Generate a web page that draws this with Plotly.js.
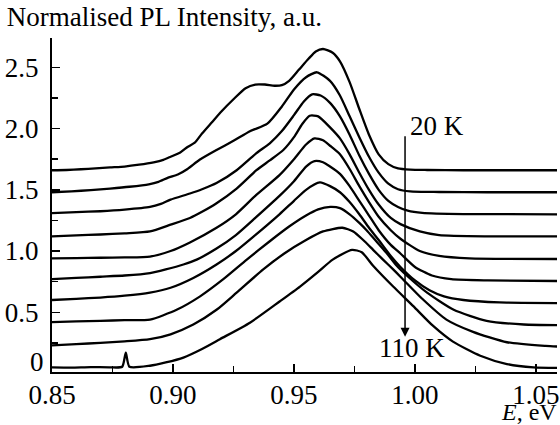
<!DOCTYPE html>
<html><head><meta charset="utf-8">
<script src="https://cdn.plot.ly/plotly-3.0.1.min.js"></script>
<style>html,body{margin:0;padding:0;background:#fff}#chart{width:560px;height:425px}</style>
</head><body><div id="chart"></div>
<script>
// Temperatures (K), top to bottom
const temps = [20, 30, 40, 50, 60, 70, 80, 90, 100, 110];

const E_20K = [0.850,0.856,0.862,0.868,0.874,0.880,0.886,0.892,0.896,0.899,0.903,0.906,0.909,0.912,0.916,0.920,0.925,0.930,0.934,0.938,0.942,0.945,0.948,0.952,0.956,0.959,0.962,0.966,0.969,0.973,0.977,0.981,0.985,0.989,0.993,0.998,1.005,1.020,1.040,1.059];
const I_20K = [1.660,1.662,1.668,1.675,1.683,1.690,1.705,1.725,1.745,1.770,1.805,1.850,1.885,1.960,2.050,2.140,2.240,2.330,2.360,2.360,2.350,2.355,2.390,2.480,2.570,2.630,2.650,2.620,2.550,2.380,2.160,1.950,1.790,1.710,1.675,1.665,1.662,1.660,1.660,1.660];

const E_30K = [0.850,0.858,0.866,0.874,0.882,0.890,0.894,0.898,0.902,0.906,0.911,0.918,0.925,0.932,0.939,0.945,0.950,0.955,0.9595,0.9649,0.969,0.973,0.977,0.981,0.985,0.989,0.993,0.998,1.010,1.030,1.059];
const I_30K = [1.480,1.488,1.497,1.510,1.525,1.545,1.565,1.600,1.625,1.670,1.745,1.825,1.900,1.980,2.040,2.180,2.320,2.420,2.460,2.390,2.270,2.100,1.930,1.770,1.640,1.550,1.505,1.487,1.482,1.480,1.480];

const E_40K = [0.850,0.860,0.870,0.880,0.8905,0.895,0.899,0.907,0.912,0.918,0.9263,0.9345,0.940,0.945,0.950,0.954,0.9575,0.961,0.9649,0.969,0.973,0.977,0.981,0.985,0.989,0.993,0.997,1.003,1.020,1.059];
const I_40K = [1.310,1.318,1.325,1.338,1.360,1.385,1.420,1.470,1.505,1.555,1.660,1.800,1.880,1.980,2.110,2.220,2.280,2.270,2.210,2.100,1.950,1.780,1.630,1.500,1.410,1.360,1.330,1.312,1.302,1.300];

const E_50K = [0.850,0.860,0.870,0.880,0.8905,0.899,0.907,0.912,0.918,0.9263,0.9345,0.940,0.9456,0.950,0.9535,0.9565,0.960,0.9649,0.969,0.973,0.977,0.981,0.985,0.990,0.994,1.002,1.010,1.030,1.059];
const I_50K = [1.120,1.128,1.135,1.145,1.160,1.215,1.270,1.320,1.390,1.510,1.660,1.740,1.825,1.930,2.040,2.105,2.100,2.010,1.920,1.790,1.640,1.500,1.380,1.270,1.220,1.160,1.130,1.120,1.120];

const E_60K = [0.850,0.860,0.870,0.880,0.8905,0.899,0.907,0.918,0.926,0.934,0.944,0.950,0.955,0.9585,0.962,0.9649,0.969,0.973,0.977,0.981,0.985,0.990,0.994,1.002,1.010,1.0225,1.059];
const I_60K = [0.940,0.942,0.945,0.948,0.955,1.000,1.070,1.190,1.300,1.450,1.620,1.750,1.870,1.920,1.905,1.860,1.790,1.670,1.530,1.400,1.280,1.170,1.100,1.000,0.960,0.940,0.935];

const E_70K = [0.850,0.860,0.870,0.880,0.8905,0.897,0.9043,0.9098,0.918,0.926,0.934,0.944,0.950,0.955,0.9585,0.962,0.9649,0.969,0.973,0.977,0.981,0.985,0.990,0.994,1.000,1.007,1.015,1.030,1.059];
const I_70K = [0.770,0.780,0.790,0.800,0.820,0.850,0.890,0.930,1.020,1.130,1.270,1.450,1.570,1.690,1.735,1.725,1.690,1.630,1.530,1.410,1.290,1.170,1.050,0.980,0.870,0.800,0.770,0.760,0.755];

const E_80K = [0.850,0.860,0.870,0.880,0.8905,0.899,0.9084,0.918,0.926,0.934,0.944,0.950,0.955,0.9607,0.9649,0.969,0.973,0.977,0.981,0.985,0.990,0.994,1.000,1.006,1.012,1.020,1.035,1.059];
const I_80K = [0.600,0.610,0.620,0.635,0.660,0.700,0.780,0.890,1.000,1.130,1.300,1.410,1.500,1.560,1.530,1.480,1.400,1.300,1.190,1.090,0.960,0.870,0.760,0.680,0.630,0.600,0.580,0.575];

const E_90K = [0.850,0.860,0.870,0.880,0.8905,0.9015,0.9112,0.9208,0.9305,0.940,0.948,0.955,0.960,0.965,0.969,0.973,0.977,0.980,0.984,0.988,0.992,0.9966,1.005,1.016,1.0296,1.045,1.059];
const I_90K = [0.420,0.425,0.430,0.435,0.440,0.520,0.630,0.770,0.930,1.080,1.200,1.290,1.340,1.360,1.350,1.300,1.230,1.170,1.080,0.990,0.890,0.800,0.660,0.520,0.430,0.400,0.395];

const E_100K = [0.850,0.860,0.870,0.880,0.8905,0.899,0.9084,0.918,0.9263,0.9373,0.946,0.955,0.962,0.970,0.9745,0.9786,0.9827,0.9868,0.991,0.995,1.003,1.013,1.024,1.038,1.054,1.059];
const I_100K = [0.230,0.240,0.250,0.262,0.280,0.320,0.400,0.520,0.660,0.850,0.980,1.090,1.160,1.190,1.160,1.090,1.010,0.930,0.850,0.770,0.610,0.440,0.340,0.255,0.225,0.220];

const E_110K = [0.850,0.858,0.866,0.874,0.879,0.8805,0.882,0.8905,0.897,0.9043,0.912,0.9194,0.9318,0.9442,0.9525,0.960,0.966,0.974,0.978,0.9827,0.991,0.9993,1.0074,1.0157,1.027,1.038,1.049,1.059];
const I_110K = [0.050,0.048,0.052,0.050,0.055,0.170,0.055,0.063,0.090,0.130,0.200,0.280,0.415,0.590,0.710,0.830,0.930,1.010,0.990,0.880,0.710,0.550,0.390,0.260,0.145,0.077,0.050,0.045];

const yTickVals = [0.5, 1.0, 1.5, 2.0, 2.5];
const yTickText = ['0.5', '1.0', '1.5', '2.0', '2.5'];
const xTickVals = [0.85, 0.90, 0.95, 1.00, 1.05];
const xTickText = ['0.85', '0.90', '0.95', '1.00', '1.05'];

const series = [
  [E_20K, I_20K], [E_30K, I_30K], [E_40K, I_40K], [E_50K, I_50K], [E_60K, I_60K],
  [E_70K, I_70K], [E_80K, I_80K], [E_90K, I_90K], [E_100K, I_100K], [E_110K, I_110K]
];

const FONT = 'Liberation Serif';
const FS = 27;

const traces = series.map((s, i) => ({
  x: s[0], y: s[1], type: 'scatter', mode: 'lines',
  name: temps[i] + ' K',
  line: {color: '#000', width: 2.3, shape: 'spline', smoothing: 0.6},
  hoverinfo: 'skip'
}));

const layout = {
  width: 560, height: 425,
  margin: {l: 52, r: 3, t: 38, b: 53},
  paper_bgcolor: '#fff', plot_bgcolor: '#fff',
  showlegend: false,
  font: {family: FONT, color: '#000', size: FS},
  title: {text: 'Normalised PL Intensity, a.u.', x: 0.012, xanchor: 'left', y: 0.962, yanchor: 'middle',
          font: {family: FONT, size: FS, color: '#000'}},
  xaxis: {
    range: [0.85, 1.0587], showgrid: false, zeroline: false,
    showline: true, linecolor: '#000', linewidth: 2,
    ticks: 'inside', ticklen: 8, tickwidth: 1.5, tickcolor: '#000',
    tickvals: xTickVals, ticktext: xTickText, ticklabelstandoff: -2,
    tickfont: {family: FONT, size: FS, color: '#000'},
    minor: {dtick: 0.025, ticks: 'inside', ticklen: 6, tickwidth: 1.5, tickcolor: '#000', showgrid: false}
  },
  yaxis: {
    range: [0.012, 2.74], showgrid: false, zeroline: false,
    showline: true, linecolor: '#000', linewidth: 2,
    ticks: 'inside', ticklen: 8, tickwidth: 1.5, tickcolor: '#000',
    tickvals: yTickVals, ticktext: yTickText, ticklabelstandoff: 6,
    tickfont: {family: FONT, size: FS, color: '#000'},
    minor: {dtick: 0.25, ticks: 'inside', ticklen: 6, tickwidth: 1.5, tickcolor: '#000', showgrid: false}
  },
  annotations: [
    {x: 0, y: 0.09, xref: 'paper', yref: 'y', xanchor: 'right', yanchor: 'middle', xshift: -6,
     text: '0', showarrow: false, font: {family: FONT, size: FS, color: '#000'}},
    {x: 0.9971, y: 2.02, xref: 'x', yref: 'y', xanchor: 'left', yanchor: 'middle',
     text: '20 K', showarrow: false, font: {family: FONT, size: FS, color: '#000'}},
    {x: 0.9988, y: 0.205, xref: 'x', yref: 'y', xanchor: 'center', yanchor: 'middle',
     text: '110 K', showarrow: false, font: {family: FONT, size: FS, color: '#000'}},
    {x: 0.9959, y: 0.30, ax: 0.9959, ay: 1.95, xref: 'x', yref: 'y', axref: 'x', ayref: 'y',
     text: '', showarrow: true, arrowhead: 2, arrowsize: 1.2, arrowwidth: 1.5, arrowcolor: '#000'},
    {x: 1, y: 0, xref: 'paper', yref: 'paper', xanchor: 'right', yanchor: 'middle', yshift: -40, xshift: 2,
     text: '<i>E</i>, eV', showarrow: false, font: {family: FONT, size: 24, color: '#000'}}
  ]
};

Plotly.newPlot('chart', traces, layout, {displayModeBar: false, staticPlot: true});
</script>
</body></html>
